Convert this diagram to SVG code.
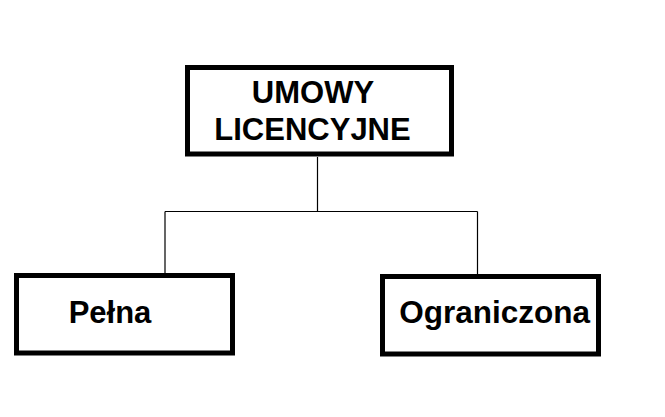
<svg xmlns="http://www.w3.org/2000/svg" width="665" height="417" viewBox="0 0 665 417">
<style>
.box{fill:#fff;stroke:#000;stroke-width:5}
.lbl{font-family:"Liberation Sans",Arial,sans-serif;font-weight:bold;font-size:31px;fill:#000;text-anchor:middle}
.conn{fill:none;stroke:#000;stroke-width:1.2}
</style>
<rect width="665" height="417" fill="#fff"/>
<g id="connectors">
<path class="conn" d="M317.5 157 V211.5 M165 211.5 H477.5 M165 211.5 V273 M477.5 211.5 V274"/>
</g>
<g id="umowy">
<rect class="box" x="187.5" y="67.5" width="264" height="86.5"/>
<text class="lbl" x="313" y="103">UMOWY</text>
<text class="lbl" x="312.5" y="140">LICENCYJNE</text>
</g>
<g id="pelna">
<rect class="box" x="16.5" y="275.5" width="216" height="77.5"/>
<text class="lbl" x="110" y="323">Pełna</text>
</g>
<g id="ograniczona">
<rect class="box" x="382.5" y="276.5" width="216" height="77.5"/>
<text class="lbl" x="494.7" y="323" style="font-size:31.5px">Ograniczona</text>
</g>
</svg>
